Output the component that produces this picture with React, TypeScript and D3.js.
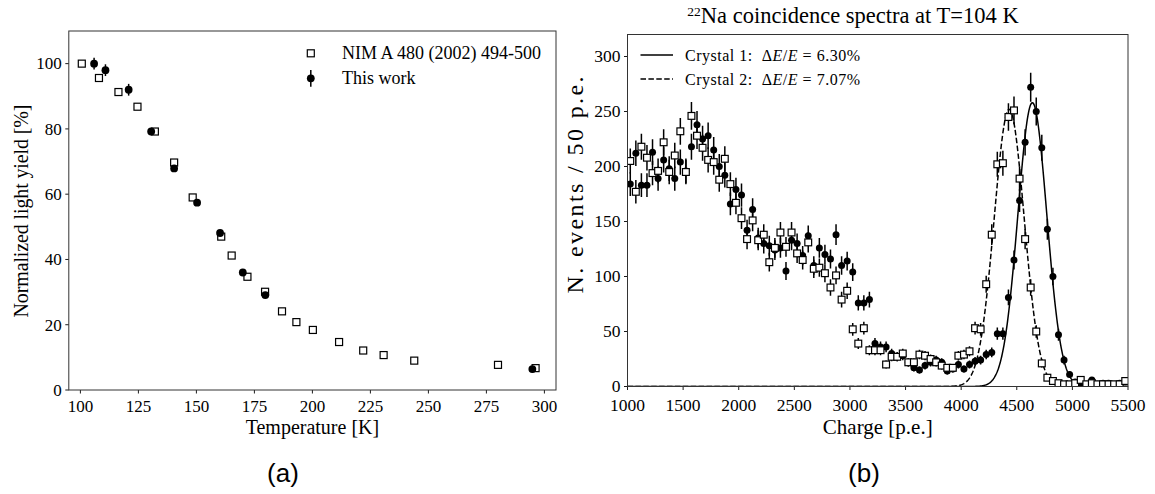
import React from "react";
import * as d3 from "d3";

// ---------- Panel (a): normalized light yield vs temperature ----------
const nimTemperature = [100.6, 108, 116.4, 124.6, 132.1, 140.4, 148.4, 160.7, 165.2, 172, 179.6, 186.9, 193.1, 200.2, 211.5, 221.9, 230.7, 243.9, 280, 296.2];
const nimYield = [100, 95.6, 91.3, 86.8, 79.2, 69.7, 59.0, 47.0, 41.2, 34.7, 30.1, 24.1, 20.8, 18.4, 14.7, 12.1, 10.7, 9.0, 7.7, 6.7];
const workTemperature = [105.9, 110.8, 120.8, 130.5, 140.4, 150.3, 160.2, 170, 179.7, 294.8];
const workYield = [100, 98, 92, 79.2, 67.9, 57.4, 48.1, 36.0, 29.1, 6.4];
const workError = [1.8, 1.8, 1.8, 1.0, 0.8, 0.8, 0.8, 0.8, 0.8, 0.8];
const temperatureTicks = [100, 125, 150, 175, 200, 225, 250, 275, 300];
const yieldTicks = [0, 20, 40, 60, 80, 100];
const temperatureDomain = [95, 305];
const yieldDomain = [0, 110];

// ---------- Panel (b): 22Na coincidence spectra ----------
const binCenters = d3.range(1025, 5500, 50); // 50 p.e. bins
const crystal1Counts = [
  184, 212, 183, 183, 213, 189, 206, 198, 189, 204,
  196, 218, 238, 225, 228, 215, 200, 192, 166, 179,
  174, 142, 161, 135, 130, 128, 124, 126, 105, 133,
  130, 119, 137, 110, 126, 120, 116, 138, 110, 114,
  104, 76, 76, 79, 39, 36, 36, 30, 27, 28,
  22, 17, 15, 19, 22, 24, 22, 14, 16, 20,
  16, 20, 23, 24, 29, 31, 48, 48, 81, 115,
  169, 222, 272, 250, 217, 143, 100, 47, 24, 11,
  4, 1, 2, 6, 2, 3, 3, 2, 3, 4,
];
const crystal2Counts = [
  205, 177, 218, 208, 194, 196, 222, 195, 210, 232,
  195, 246, 228, 217, 206, 204, 188, 207, 184, 167,
  153, 134, 151, 133, 138, 113, 126, 140, 127, 140,
  121, 115, 131, 107, 108, 103, 90, 101, 79, 87,
  52, 39, 53, 33, 33, 33, 20, 27, 27, 30,
  22, 22, 29, 28, 25, 22, 19, 17, 17, 28,
  29, 32, 53, 52, 93, 138, 202, 203, 245, 251,
  189, 134, 90, 50, 21, 8, 5, 3, 2, 2,
  3, 6, 2, 3, 2, 2, 2, 2, 2, 5,
];
const errorScale = 0.8; // error bar ~ scaled sqrt(N)
// Gaussian fits
const fit1 = { mean: 4640, sigma: 130, amplitude: 258 };
const fit2 = { mean: 4432, sigma: 135, amplitude: 252 };
const chargeTicks = [1000, 1500, 2000, 2500, 3000, 3500, 4000, 4500, 5000, 5500];
const countTicks = [0, 50, 100, 150, 200, 250, 300];
const chargeDomain = [1000, 5500];
const countDomain = [0, 320];

const serif = "'Liberation Serif', 'Times New Roman', serif";
const sans = "'Liberation Sans', Arial, sans-serif";

function PanelA() {
  const x = d3.scaleLinear().domain(temperatureDomain).range([68.8, 556]);
  const y = d3.scaleLinear().domain(yieldDomain).range([390, 31]);
  const [x0, x1] = x.range();
  const [y0, y1] = y.range();
  const sq = 7;
  return (
    <g fontFamily={serif} fill="#000">
      {temperatureTicks.map((t) => (
        <g key={"xt" + t}>
          <line x1={x(t)} x2={x(t)} y1={y0} y2={y0 + 3.5} stroke="#000" strokeWidth={0.9} />
          <text x={x(t)} y={411.5} textAnchor="middle" fontSize={17}>{t}</text>
        </g>
      ))}
      {yieldTicks.map((v) => (
        <g key={"yt" + v}>
          <line x1={x0 - 3.5} x2={x0} y1={y(v)} y2={y(v)} stroke="#000" strokeWidth={0.9} />
          <text x={x0 - 7} y={y(v)} dy="0.34em" textAnchor="end" fontSize={17}>{v}</text>
        </g>
      ))}
      {nimTemperature.map((t, i) => (
        <rect key={"sq" + i} x={x(t) - sq / 2} y={y(nimYield[i]) - sq / 2} width={sq} height={sq}
          fill="#fff" stroke="#000" strokeWidth={1.2} />
      ))}
      {workTemperature.map((t, i) => (
        <g key={"c" + i}>
          <line x1={x(t)} x2={x(t)} y1={y(workYield[i] - workError[i])} y2={y(workYield[i] + workError[i])}
            stroke="#000" strokeWidth={1.5} />
          <circle cx={x(t)} cy={y(workYield[i])} r={3.9} fill="#000" />
        </g>
      ))}
      <rect x={x0} y={y1} width={x1 - x0} height={y0 - y1} fill="none" stroke="#333" strokeWidth={1} />
      {/* legend */}
      <rect x={310.8 - sq / 2} y={53.3 - sq / 2} width={sq} height={sq} fill="#fff" stroke="#000" strokeWidth={1.2} />
      <text x={342} y={59} fontSize={18}>NIM A 480 (2002) 494-500</text>
      <line x1={310.8} x2={310.8} y1={70} y2={86.7} stroke="#000" strokeWidth={1.5} />
      <circle cx={310.8} cy={78.3} r={3.9} fill="#000" />
      <text x={342} y={84} fontSize={18}>This work</text>
      {/* axis labels */}
      <text x={(x0 + x1) / 2} y={433.5} textAnchor="middle" fontSize={20}>Temperature [K]</text>
      <text transform={`translate(27.5, 211) rotate(-90)`} textAnchor="middle" fontSize={20}
        textLength={213} lengthAdjust="spacing">Normalized light yield [%]</text>
      <text x={283} y={482} textAnchor="middle" fontFamily={sans} fontSize={26}>(a)</text>
    </g>
  );
}

function PanelB() {
  const x = d3.scaleLinear().domain(chargeDomain).range([627.5, 1128]);
  const y = d3.scaleLinear().domain(countDomain).range([386.5, 34.5]);
  const [x0, x1] = x.range();
  const [y0, y1] = y.range();
  const sq = 6.8;
  const gauss = (f: { mean: number; sigma: number; amplitude: number }) => (q: number) =>
    f.amplitude * Math.exp(-((q - f.mean) ** 2) / (2 * f.sigma * f.sigma));
  const fitCharges = d3.range(chargeDomain[0], chargeDomain[1] + 0.1, 5);
  const g1 = gauss(fit1);
  const g2 = gauss(fit2);
  const path1 = d3.line<number>().x((q) => x(q)).y((q) => y(g1(q)))(fitCharges) || "";
  const path2 = d3.line<number>().x((q) => x(q)).y((q) => y(g2(q)))(fitCharges) || "";
  const err = (v: number) => errorScale * Math.sqrt(Math.max(v, 1));
  return (
    <g fontFamily={serif} fill="#000">
      <defs>
        <clipPath id="clipB">
          <rect x={x0} y={y1} width={x1 - x0} height={y0 - y1} />
        </clipPath>
      </defs>
      {chargeTicks.map((t) => (
        <g key={"xt" + t}>
          <line x1={x(t)} x2={x(t)} y1={y0} y2={y0 + 3.5} stroke="#000" strokeWidth={0.9} />
          <text x={x(t)} y={411} textAnchor="middle" fontSize={17.5}>{t}</text>
        </g>
      ))}
      {countTicks.map((v) => (
        <g key={"yt" + v}>
          <line x1={x0 - 3.5} x2={x0} y1={y(v)} y2={y(v)} stroke="#000" strokeWidth={0.9} />
          <text x={x0 - 7} y={y(v)} dy="0.3em" textAnchor="end" fontSize={17.5}>{v}</text>
        </g>
      ))}
      <g clipPath="url(#clipB)">
        <path d={path2} fill="none" stroke="#000" strokeWidth={1.5} strokeDasharray="5.5,2.4" />
        <path d={path1} fill="none" stroke="#000" strokeWidth={1.5} />
        {binCenters.map((q, i) => {
          const v = crystal1Counts[i];
          const e = err(v);
          return (
            <g key={"c1" + i}>
              <line x1={x(q)} x2={x(q)} y1={y(Math.max(v - e, 0))} y2={y(v + e)} stroke="#000" strokeWidth={1.5} />
              <circle cx={x(q)} cy={y(v)} r={3.5} fill="#000" />
            </g>
          );
        })}
        {binCenters.map((q, i) => {
          const v = crystal2Counts[i];
          const e = err(v);
          return (
            <g key={"c2" + i}>
              <line x1={x(q)} x2={x(q)} y1={y(Math.max(v - e, 0))} y2={y(v + e)} stroke="#000" strokeWidth={1.5} />
              <rect x={x(q) - sq / 2} y={y(v) - sq / 2} width={sq} height={sq} fill="#fff" stroke="#000" strokeWidth={1.2} />
            </g>
          );
        })}
      </g>
      <rect x={x0} y={y1} width={x1 - x0} height={y0 - y1} fill="none" stroke="#333" strokeWidth={1} />
      {/* legend */}
      <line x1={640.5} x2={673} y1={55} y2={55} stroke="#000" strokeWidth={1.5} />
      <text x={685} y={60.5} fontSize={16} textLength={175} lengthAdjust="spacing" style={{ whiteSpace: "pre" }}>
        Crystal 1:  Δ<tspan fontStyle="italic">E</tspan>/<tspan fontStyle="italic">E</tspan> = 6.30%
      </text>
      <line x1={640.5} x2={673} y1={79} y2={79} stroke="#000" strokeWidth={1.5} strokeDasharray="5.5,2.4" />
      <text x={685} y={84.5} fontSize={16} textLength={175} lengthAdjust="spacing" style={{ whiteSpace: "pre" }}>
        Crystal 2:  Δ<tspan fontStyle="italic">E</tspan>/<tspan fontStyle="italic">E</tspan> = 7.07%
      </text>
      {/* title */}
      <text x={853} y={23} textAnchor="middle" fontSize={22.5}>
        <tspan fontSize={13.5} dy={-7.5}>22</tspan>
        <tspan dy={7.5}>Na coincidence spectra at T=104 K</tspan>
      </text>
      {/* axis labels */}
      <text x={(x0 + x1) / 2} y={433.5} textAnchor="middle" fontSize={21}>Charge [p.e.]</text>
      <text transform={`translate(583, 185) rotate(-90)`} textAnchor="middle" fontSize={24}
        textLength={217} lengthAdjust="spacing">N. events / 50 p.e.</text>
      <text x={864} y={482} textAnchor="middle" fontFamily={sans} fontSize={26}>(b)</text>
    </g>
  );
}

export default function App() {
  return (
    <svg width={1155} height={494} viewBox="0 0 1155 494"
      style={{ position: "absolute", left: 0, top: 0, display: "block" }}>
      <rect x={0} y={0} width={1155} height={494} fill="#fff" />
      <PanelA />
      <PanelB />
    </svg>
  );
}
